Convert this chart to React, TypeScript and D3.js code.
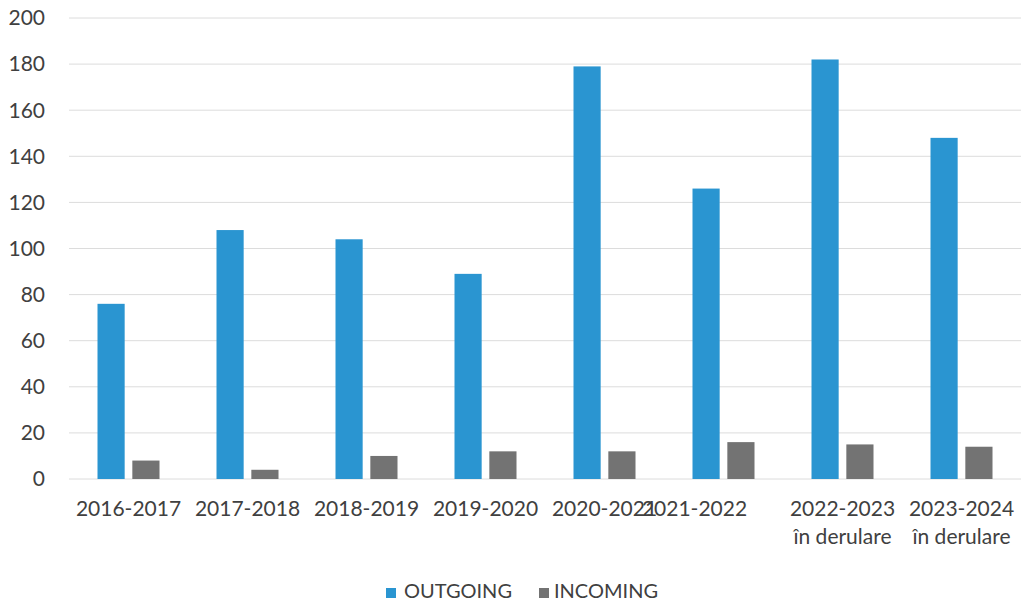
import React, { useEffect, useRef } from 'react';
import * as d3 from 'd3';

const categories = [
  '2016-2017',
  '2017-2018',
  '2018-2019',
  '2019-2020',
  '2020-2021',
  '2021-2022',
  '2022-2023\nîn derulare',
  '2023-2024\nîn derulare',
];
const outgoing = [76, 108, 104, 89, 179, 126, 182, 148];
const incoming = [8, 4, 10, 12, 12, 16, 15, 14];
const yTicks = [0, 20, 40, 60, 80, 100, 120, 140, 160, 180, 200];
const seriesNames = ['OUTGOING', 'INCOMING'];
const seriesColors = ['#2A95D1', '#737373'];

const App: React.FC = () => {
  const svgRef = useRef<SVGSVGElement>(null);

  useEffect(() => {
    document.body.style.margin = '0';
    if (!svgRef.current) return;
    d3.select(svgRef.current).selectAll('*').remove();

    const W = 1023;
    const H = 604;
    const left = 69;
    const right = 1021;
    const top = 18;
    const bottom = 479;
    const font = 'Lato, "Open Sans", sans-serif';
    const textColor = '#404040';

    const svg = d3.select(svgRef.current)
      .attr('width', W)
      .attr('height', H)
      .style('display', 'block')
      .style('background', '#ffffff');

    const x0 = d3.scaleBand<string>()
      .domain(categories)
      .range([left, right])
      .padding(0);

    const x1 = d3.scaleBand<string>()
      .domain(seriesNames)
      .range([0, 62])
      .paddingInner(0.22)
      .paddingOuter(0);

    const y = d3.scaleLinear()
      .domain([0, 200])
      .range([bottom, top]);

    // gridlines
    svg.append('g')
      .selectAll('line')
      .data(yTicks)
      .enter()
      .append('line')
      .attr('x1', left)
      .attr('x2', right)
      .attr('y1', d => y(d))
      .attr('y2', d => y(d))
      .attr('stroke', '#dcdcdc')
      .attr('stroke-width', 1);

    // y labels
    svg.append('g')
      .selectAll('text')
      .data(yTicks)
      .enter()
      .append('text')
      .attr('x', 45)
      .attr('y', d => y(d))
      .attr('dy', '0.35em')
      .attr('text-anchor', 'end')
      .style('font-family', font)
      .style('font-size', '21px')
      .style('fill', textColor)
      .text(d => d);

    // bars
    const groups = svg.append('g')
      .selectAll('g')
      .data(categories)
      .enter()
      .append('g')
      .attr('transform', d => `translate(${(x0(d) ?? 0) + x0.bandwidth() / 2 - 31},0)`);

    groups.selectAll('rect')
      .data((_, i) => [
        { key: 'OUTGOING', value: outgoing[i] },
        { key: 'INCOMING', value: incoming[i] },
      ])
      .enter()
      .append('rect')
      .attr('x', d => x1(d.key) ?? 0)
      .attr('y', d => y(d.value))
      .attr('width', x1.bandwidth())
      .attr('height', d => bottom - y(d.value))
      .attr('fill', (_, j) => seriesColors[j]);

    // category labels (the 2021-2022 label sits left of its slot, as in the source)
    const nudge = (i: number) => (i === 5 ? -29 : 0);
    const catLabels = svg.append('g')
      .selectAll('text')
      .data(categories)
      .enter()
      .append('text')
      .attr('y', 516)
      .attr('text-anchor', 'middle')
      .style('font-family', font)
      .style('font-size', '21px')
      .style('fill', textColor);

    catLabels.each(function (d, i) {
      const cx = (x0(d) ?? 0) + x0.bandwidth() / 2 + nudge(i);
      const t = d3.select(this);
      d.split('\n').forEach((line, k) => {
        t.append('tspan')
          .attr('x', cx)
          .attr('dy', k === 0 ? 0 : 28)
          .text(line);
      });
    });

    // legend
    const legendItems = [
      { name: seriesNames[0], color: seriesColors[0], x: 386, gap: 18 },
      { name: seriesNames[1], color: seriesColors[1], x: 539, gap: 15 },
    ];
    const legend = svg.append('g')
      .selectAll('g')
      .data(legendItems)
      .enter()
      .append('g')
      .attr('transform', d => `translate(${d.x},588)`);

    legend.append('rect')
      .attr('width', 10)
      .attr('height', 10)
      .attr('fill', d => d.color);

    legend.append('text')
      .attr('x', d => d.gap)
      .attr('y', 10)
      .style('font-family', font)
      .style('font-size', '20px')
      .style('fill', textColor)
      .text(d => d.name);
  }, []);

  return <svg ref={svgRef} />;
};

export default App;
